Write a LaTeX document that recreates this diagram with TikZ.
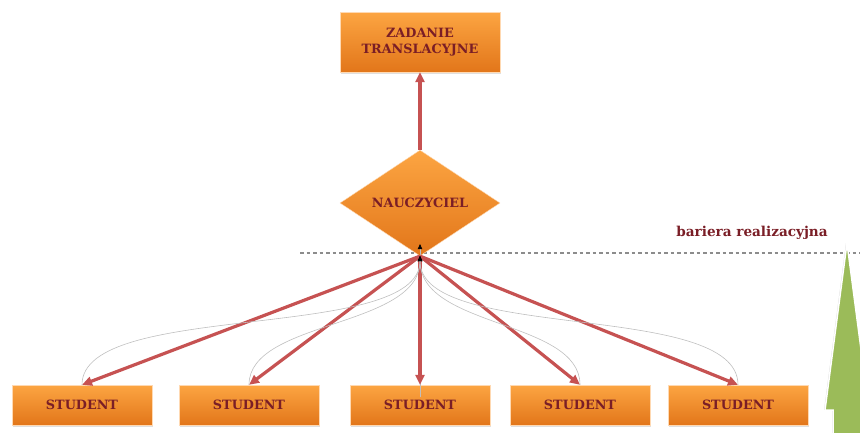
\documentclass[tikz,border=0pt]{standalone}
\usepackage{fontspec}
\setmainfont{DejaVu Serif}
\usetikzlibrary{shapes.geometric, arrows.meta, positioning, shadows}

\definecolor{boxtop}{RGB}{252,165,66}
\definecolor{boxbot}{RGB}{226,118,26}
\definecolor{arrred}{RGB}{198,82,82}
\definecolor{txtred}{RGB}{122,30,38}
\definecolor{bargreen}{RGB}{155,187,89}

\begin{document}
\begin{tikzpicture}[
  x=1pt, y=-1pt,
  block/.style={rectangle, draw=orange!30, top color=boxtop, bottom color=boxbot, minimum width=140pt, minimum height=40pt, align=center, inner sep=0pt, text=txtred, font=\bfseries\fontsize{12.8}{16}\selectfont, drop shadow={opacity=0.25, shadow xshift=1pt, shadow yshift=-1.5pt}},
  rhomb/.style={diamond, draw=orange!30, top color=boxtop, bottom color=boxbot, minimum width=160pt, minimum height=100pt, inner sep=0pt, text=txtred, font=\bfseries\fontsize{12.8}{16}\selectfont},
  arr/.style={-{Triangle[length=10pt, width=9pt]}, line width=3.2pt, draw=arrred},
  back/.style={-{Triangle[length=5pt, width=4.5pt, color=black]}, line width=0.6pt, draw=black!25},
]
\useasboundingbox (0,0) rectangle (860,432);

% barrier line
\draw[black!45, line width=1.3pt, dash pattern=on 3.5pt off 3pt] (300,253) -- (860,253);
\node[text=txtred, font=\bfseries\fontsize{13.6}{16}\selectfont] (bariera) at (752,233) {bariera realizacyjna};

% green arrow on the right
\begin{scope}
\clip (0,0) rectangle (860,432);
\filldraw[fill=bargreen, draw=white, line width=1.5pt, drop shadow={opacity=0.3, shadow xshift=-1pt, shadow yshift=0pt}]
  (847,243) -- (869,410) -- (861,410) -- (861,440) -- (833,440) -- (833,410) -- (825,410) -- cycle;
\end{scope}

\node[rhomb] (nauczyciel) at (420,203) {NAUCZYCIEL};
\node[block, minimum width=160pt, minimum height=60pt] (zadanie) at (420,42) {ZADANIE\\TRANSLACYJNE};

\node[block] (s1) at (82,405) {STUDENT};
\node[block] (s2) at (249,405) {STUDENT};
\node[block] (s3) at (420,405) {STUDENT};
\node[block] (s4) at (580,405) {STUDENT};
\node[block] (s5) at (738,405) {STUDENT};

% feedback along the middle, under the red arrow
\draw[back] ([yshift=-12pt]s3.north) -- ([yshift=12pt]nauczyciel.south);

\draw[arr] (nauczyciel) -- (zadanie);
\draw[arr] (nauczyciel.south) -- (s1.north);
\draw[arr] (nauczyciel.south) -- (s2.north);
\draw[arr] (nauczyciel.south) -- (s3.north);
\draw[arr] (nauczyciel.south) -- (s4.north);
\draw[arr] (nauczyciel.south) -- (s5.north);

% feedback from students
\draw[back] (s1.north) .. controls +(0,-85) and +(0,87) .. (nauczyciel.south);
\draw[back] (s2.north) .. controls +(0,-65) and +(0,72) .. (nauczyciel.south);
\draw[back] (s4.north) .. controls +(0,-65) and +(0,72) .. (nauczyciel.south);
\draw[back] (s5.north) .. controls +(0,-85) and +(0,87) .. (nauczyciel.south);
\end{tikzpicture}
\end{document}
